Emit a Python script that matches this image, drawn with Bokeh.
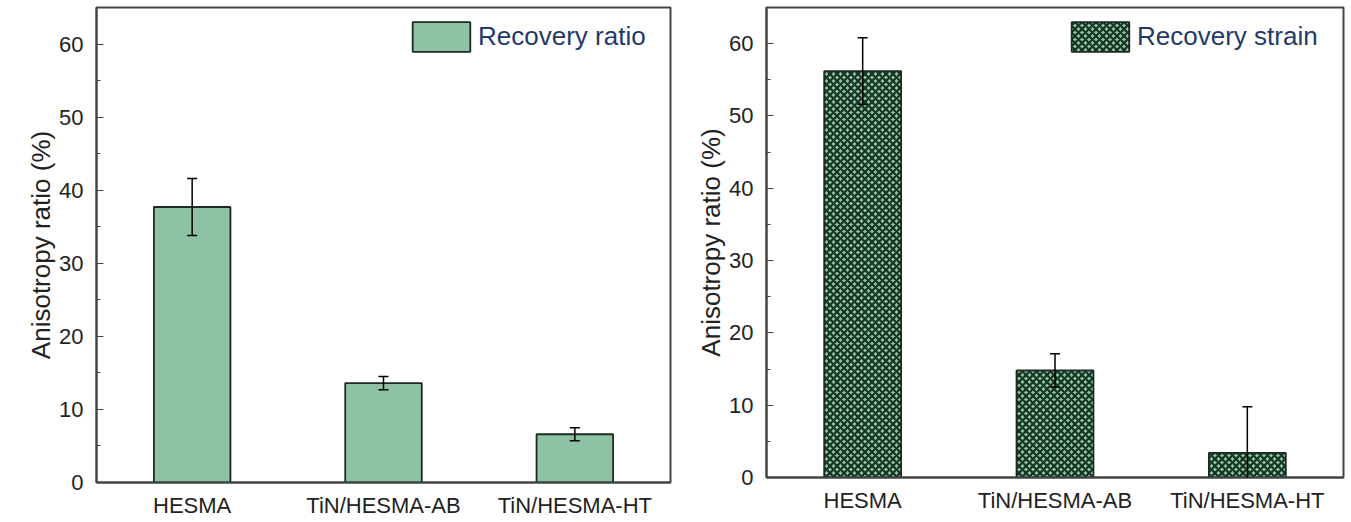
from bokeh.plotting import figure
from bokeh.layouts import row
from bokeh.models import FixedTicker, Range1d, ColumnDataSource, Whisker, TeeHead
from bokeh.embed import file_html
from bokeh.resources import INLINE

categories = ["HESMA", "TiN/HESMA-AB", "TiN/HESMA-HT"]
ratio_values = [37.7, 13.6, 6.6]
ratio_errors = [3.9, 0.9, 0.9]
strain_values = [56.2, 14.8, 3.4]
strain_errors = [4.6, 2.3, 6.4]
y_ticks = [0, 10, 20, 30, 40, 50, 60]
y_minor = [5, 15, 25, 35, 45, 55]

FONT = "Liberation Sans"


def make_panel(values, errors, label, hatch, width, height, border_left, border_right,
               border_top, legend_xy):
    p = figure(x_range=categories, y_range=Range1d(0, 65), width=width, height=height,
               output_backend="svg", toolbar_location=None,
               min_border_left=border_left, min_border_right=border_right,
               min_border_top=border_top, min_border_bottom=20)
    src = ColumnDataSource(dict(x=categories, top=values,
                                upper=[v + e for v, e in zip(values, errors)],
                                lower=[v - e for v, e in zip(values, errors)]))
    kw = dict(x="x", top="top", width=0.4, source=src, fill_color="#8dc2a4",
              line_color="#1c2b22", line_width=1.8, legend_label=label)
    if hatch:
        kw.update(hatch_pattern="diagonal_cross", hatch_color="#143222",
                  hatch_scale=7, hatch_weight=2.2)
    p.vbar(**kw)
    w = Whisker(source=src, base="x", upper="upper", lower="lower",
                line_color="black", line_width=1.5, level="overlay",
                upper_head=TeeHead(size=10, line_width=1.5, line_color="black"),
                lower_head=TeeHead(size=10, line_width=1.5, line_color="black"))
    p.add_layout(w)

    p.grid.visible = False
    p.outline_line_color = "#444444"
    p.outline_line_width = 2
    p.background_fill_color = "white"
    p.border_fill_color = "white"

    p.yaxis.ticker = FixedTicker(ticks=y_ticks, minor_ticks=y_minor)
    p.yaxis.axis_label = "Anisotropy ratio (%)"
    p.yaxis.axis_label_text_font = FONT
    p.yaxis.axis_label_text_font_size = "26px"
    p.yaxis.axis_label_text_font_style = "normal"
    p.yaxis.axis_label_text_color = "#222222"
    p.yaxis.axis_label_standoff = 0
    p.yaxis.major_label_text_font = FONT
    p.yaxis.major_label_text_font_size = "22px"
    p.yaxis.major_label_text_color = "#222222"
    p.yaxis.major_label_standoff = 13
    p.yaxis.major_tick_in = 7
    p.yaxis.major_tick_out = 0
    p.yaxis.minor_tick_in = 4
    p.yaxis.minor_tick_out = 0
    p.yaxis.major_tick_line_color = "#444444"
    p.yaxis.minor_tick_line_color = "#444444"
    p.yaxis.axis_line_color = "#444444"
    p.yaxis.axis_line_width = 2

    p.xaxis.major_label_text_font = FONT
    p.xaxis.major_label_text_font_size = "22px"
    p.xaxis.major_label_text_color = "#222222"
    p.xaxis.major_tick_line_color = None
    p.xaxis.minor_tick_line_color = None
    p.xaxis.major_tick_in = 0
    p.xaxis.major_tick_out = 0
    p.xaxis.axis_line_color = "#444444"
    p.xaxis.axis_line_width = 2
    p.xaxis.major_label_standoff = 10

    lg = p.legend[0]
    lg.location = legend_xy
    lg.border_line_color = None
    lg.background_fill_alpha = 0
    lg.glyph_width = 72
    lg.glyph_height = 37
    lg.label_standoff = 1
    lg.label_text_font = FONT
    lg.label_text_font_size = "26px"
    lg.label_text_color = "#1f3a68"
    lg.margin = 0
    lg.padding = 4
    return p


p1 = make_panel(ratio_values, ratio_errors, "Recovery ratio", False, 672, 520, 96, 2, 7, (309, 427))
p2 = make_panel(strain_values, strain_errors, "Recovery strain", True, 675, 515, 94, 4, 5, (298, 422))
p = row(p1, p2)

open("out.html", "w").write(file_html(p, INLINE))
